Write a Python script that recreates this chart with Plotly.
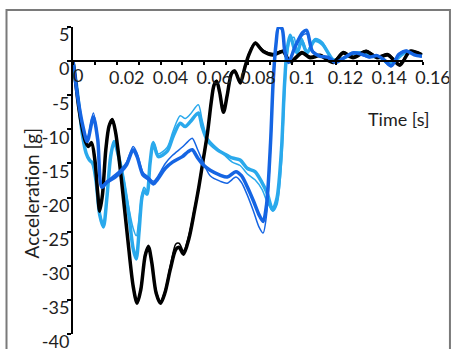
import plotly.graph_objects as go

# ---------------- data (time in s, acceleration in g) ----------------
t_black = [0, 0.001, 0.0025, 0.0042, 0.0057, 0.007, 0.0085, 0.01, 0.0112, 0.0122, 0.0135, 0.015,
           0.0165, 0.018, 0.0195, 0.022, 0.025, 0.0275, 0.0293, 0.031, 0.033, 0.0345, 0.036, 0.038,
           0.04, 0.042, 0.0445, 0.047, 0.0485, 0.0505, 0.053, 0.0555, 0.0575, 0.0595, 0.0615, 0.0632,
           0.0645, 0.0657, 0.067, 0.0688, 0.0705, 0.0725, 0.074, 0.0765, 0.0785, 0.0805, 0.0833,
           0.087, 0.0915, 0.096, 0.0993, 0.1047, 0.1084, 0.113, 0.119, 0.1235, 0.128, 0.134, 0.139,
           0.144, 0.1494, 0.154, 0.1595]
a_black = [0, -2.5, -6.5, -9.8, -11.8, -12.5, -12.0, -14.5, -19, -22, -19.5, -13,
           -9.5, -8.6, -10.5, -17, -26, -33, -35.5, -33.5, -28.5, -27.2, -29.5, -34,
           -35.5, -34, -30.5, -27.6, -27.3, -28.3, -26, -22, -18.5, -14.5, -10.5, -6,
           -3.5, -3.0, -4.5, -7.5, -5, -1.8, -1.5, -3.2, -1, 1, 2.6,
           1.4, 0.9, 1.4, -0.1, 1.2, 0.5, 0.8, -0.2, 1.2, 0.5, 1.4, 0.5,
           0.9, -0.6, 1.4, 0.9]

t_black_thin = t_black
a_black_thin = [0, -2.4, -6.3, -9.6, -11.6, -12.3, -11.8, -14.2, -18.8, -21.7, -19.2, -12.8,
                -9.3, -8.4, -10.3, -16.8, -25.7, -32.7, -35.2, -33.2, -28.2, -27.0, -29.2, -33.7,
                -35.2, -33.7, -30.0, -26.8, -26.7, -27.8, -25.5, -21.6, -18.2, -14.2, -10.2, -5.8,
                -3.3, -2.8, -4.3, -7.2, -4.8, -1.6, -1.3, -3.0, -0.8, 1.2, 2.8,
                1.6, 1.1, 1.6, 0.1, 1.4, 0.7, 1.0, 0.0, 1.4, 0.7, 1.6, 0.7,
                1.1, -0.4, 1.6, 1.1]

t_lblue = [0, 0.0018, 0.0043, 0.006, 0.0075, 0.009, 0.0105, 0.0122, 0.0139, 0.0155, 0.0172,
           0.0188, 0.0205, 0.0225, 0.0255, 0.0275, 0.0289, 0.0302, 0.0315, 0.0325, 0.0338, 0.0352,
           0.0367, 0.039, 0.0431, 0.0458, 0.049, 0.0513, 0.0536, 0.0573, 0.059, 0.0614, 0.066,
           0.0687, 0.0728, 0.0764, 0.0796, 0.0832, 0.0864, 0.0887, 0.0913, 0.0933, 0.0953, 0.0966,
           0.0978, 0.0993, 0.101, 0.1025, 0.1045, 0.107, 0.1105, 0.114, 0.119, 0.1235, 0.128,
           0.1325, 0.1365, 0.1405, 0.1445, 0.148, 0.152, 0.1595]
a_lblue = [0, -4, -10.8, -13.5, -14.5, -15, -17.5, -22.5, -24.3, -20, -14,
           -11.8, -13.5, -16.5, -22.5, -27.5, -29, -25, -20, -19, -19.5, -15,
           -12, -14, -13.2, -11, -9.1, -9.6, -8.9, -7.6, -9.6, -11.6, -13,
           -13.5, -14.2, -14.5, -15.7, -16.2, -17.8, -19.3, -21.8, -20, -13, -4,
           1.5, 3.8, 2, 1.2, 3.0, 1.2, 3.0, 2.5, 0.2, 0.4, 1.1,
           1.2, 0.7, 0.6, -0.4, 0.3, 1.3, 0.8]

t_lblue_thin = t_lblue
a_lblue_thin = [0, -4.2, -11, -13.6, -14.3, -15.2, -17.8, -22.2, -23.8, -19.8, -14.2,
                -12, -13.2, -16, -21.5, -24.5, -25.6, -23, -19.5, -18.5, -19, -15,
                -11.8, -13.6, -12.6, -10.2, -8, -8.4, -7.8, -6.4, -8.6, -11.2, -12.8,
                -13.6, -14.8, -15.3, -16.5, -17.4, -18.8, -20.6, -22, -21, -15, -6,
                0.5, 3.2, 3.5, 1.5, 3.4, 1.5, 3.3, 2.8, 0.0, 0.5, 1.2,
                1.0, 0.6, 0.5, -0.6, 0.4, 1.3, 0.7]

t_dblue = [0, 0.002, 0.0045, 0.0065, 0.0093, 0.0113, 0.0132, 0.0157, 0.0193, 0.022, 0.0245,
           0.0275, 0.0293, 0.032, 0.0345, 0.0368, 0.0385, 0.0422, 0.0455, 0.05, 0.0525, 0.0545,
           0.057, 0.0595, 0.0627, 0.0672, 0.0705, 0.0745, 0.077, 0.0795, 0.0825, 0.085, 0.0869,
           0.0885, 0.0903, 0.0915, 0.0928, 0.094, 0.0955, 0.0968, 0.0985, 0.1015, 0.105, 0.1068,
           0.1095, 0.113, 0.1165, 0.12, 0.124, 0.128, 0.132, 0.1355, 0.139, 0.1425, 0.1455, 0.149,
           0.1525, 0.156, 0.1595]
a_dblue = [0, -5, -9.5, -11.8, -8.2, -11.5, -18.5, -17.7, -17, -16.2, -15.2,
           -13, -14, -16.7, -17.3, -18, -17.4, -15.7, -14.8, -14, -13.3, -13,
           -14.2, -15.2, -16, -16.7, -17, -16.2, -16.8, -18.3, -20.5, -22.5, -23.5,
           -21, -12, -3, 2.5, 5, 4.8, 1.5, -0.2, 2.1, 4.2, 4.5,
           1.4, 0.7, 0.6, -0.2, 0.5, 1.2, 1.0, 0.6, 0.8, 0.1, -0.7, 1.0,
           1.5, 0.9, 0.7]

t_dblue_thin = t_dblue
a_dblue_thin = [0, -5.2, -9.8, -11.2, -7.6, -11.2, -18.2, -17.5, -16.6, -15.8, -14.8,
                -12.5, -13.5, -16.3, -17, -17.6, -17, -15, -13.8, -12.6, -11.8, -11.3,
                -13, -14.8, -16.8, -17.6, -17.9, -17, -17.8, -19.5, -22, -24.3, -25.2,
                -22.5, -13, -3.5, 2.3, 4.8, 4.6, 1.4, 0, 2, 3.8, 4.0,
                1.6, 0.8, 0.4, -0.3, 0.6, 1.3, 0.9, 0.5, 0.9, 0.0, -0.8, 1.1,
                1.6, 1.0, 0.6]

x_tickvals = [0.01 * i for i in range(17)]
x_ticklabels = ["0", "", "0.02", "", "0.04", "", "0.06", "", "0.08", "", "0.1", "", "0.12", "",
                "0.14", "", "0.16"]
y_tickvals = [5, 0, -5, -10, -15, -20, -25, -30, -35, -40]
y_ticklabels = ["5", "0", "-5", "-10", "-15", "-20", "-25", "-30", "-35", "-40"]
y_gridvals = [-5, -10, -15, -20, -25, -30, -35]

x_title = "Time [s]"
y_title = "Acceleration [g]"

LBLUE = "#2aa9ec"
DBLUE = "#1565e3"
BLACK = "#000000"
TXT = "#1e1e1e"
FONT = "Lato"

fig = go.Figure()
series = [
    (t_lblue_thin, a_lblue_thin, LBLUE, 1.5),
    (t_lblue, a_lblue, LBLUE, 3.5),
    (t_black_thin, a_black_thin, BLACK, 1.5),
    (t_black, a_black, BLACK, 3.5),
    (t_dblue_thin, a_dblue_thin, DBLUE, 1.5),
    (t_dblue, a_dblue, DBLUE, 3.5),
]
for tx, ay, col, w in series:
    fig.add_trace(go.Scatter(x=tx, y=ay, mode="lines",
                             line=dict(color=col, width=w, shape="spline", smoothing=0.8),
                             showlegend=False, hoverinfo="skip"))

ypos0 = (0 - (-40)) / 45.0

fig.update_layout(
    width=451, height=349,
    margin=dict(l=73, r=28, t=27, b=15, autoexpand=False),
    paper_bgcolor="white", plot_bgcolor="white",
    font=dict(family=FONT, size=18, color=TXT),
    xaxis=dict(range=[0, 0.16], anchor="free", position=ypos0, automargin=False,
               tickvals=x_tickvals, ticktext=["" if s == "0" else s for s in x_ticklabels],
               ticks="outside", ticklen=3, tickwidth=1.5, tickcolor="black",
               showline=True, linecolor="black", linewidth=2, showgrid=False, zeroline=False,
               ticklabelshift=10, ticklabelstandoff=-3, ticklabeloverflow="allow",
               tickfont=dict(size=18)),
    yaxis=dict(range=[-40, 5], tickvals=y_tickvals, ticktext=y_ticklabels, automargin=False,
               ticks="outside", ticklen=4, tickwidth=1.5, tickcolor="black",
               showline=True, linecolor="black", linewidth=2, showgrid=False, zeroline=False,
               ticklabelshift=8, ticklabelstandoff=-6, ticklabeloverflow="allow",
               tickfont=dict(size=18)),
    xaxis2=dict(range=[0, 0.16], overlaying="x", anchor="free", position=ypos0,
                tickvals=x_tickvals, ticks="inside", ticklen=3, tickwidth=1.5, tickcolor="black",
                showticklabels=False, showgrid=False, zeroline=False, showline=False),
    yaxis2=dict(range=[-40, 5], overlaying="y", anchor="x2",
                tickvals=y_gridvals, ticks="", showticklabels=False,
                showgrid=True, gridcolor="#d9d9d9", gridwidth=1.5, zeroline=False, showline=False,
                layer="below traces"),
    yaxis3=dict(range=[-40, 5], overlaying="y", anchor="x2",
                tickvals=y_tickvals, ticks="inside", ticklen=4, tickwidth=1.5, tickcolor="black",
                showticklabels=False, showgrid=False, zeroline=False, showline=False),
)

# frame around the chart area
fig.add_shape(type="rect", xref="paper", yref="paper",
              x0=-0.19, x1=1.077, y0=-0.2, y1=1.055,
              line=dict(color="#7a7a7a", width=2), layer="above")

# "0" label of the time axis and axis titles
fig.add_annotation(x=x_tickvals[0], y=0, xref="x", yref="y", text=x_ticklabels[0],
                   showarrow=False, xanchor="left", yanchor="top", yshift=-1, xshift=-2,
                   font=dict(size=18, color=TXT))
fig.add_annotation(x=1.026, y=(-8.5 + 40) / 45, xref="paper", yref="paper", text=x_title,
                   showarrow=False, xanchor="right", yanchor="middle",
                   font=dict(size=18, color=TXT))
fig.add_annotation(x=-0.118, y=(-19.3 + 40) / 45, xref="paper", yref="paper", text=y_title,
                   showarrow=False, textangle=-90, xanchor="center", yanchor="middle",
                   font=dict(size=19, color=TXT))

fig.write_html("out.html")
